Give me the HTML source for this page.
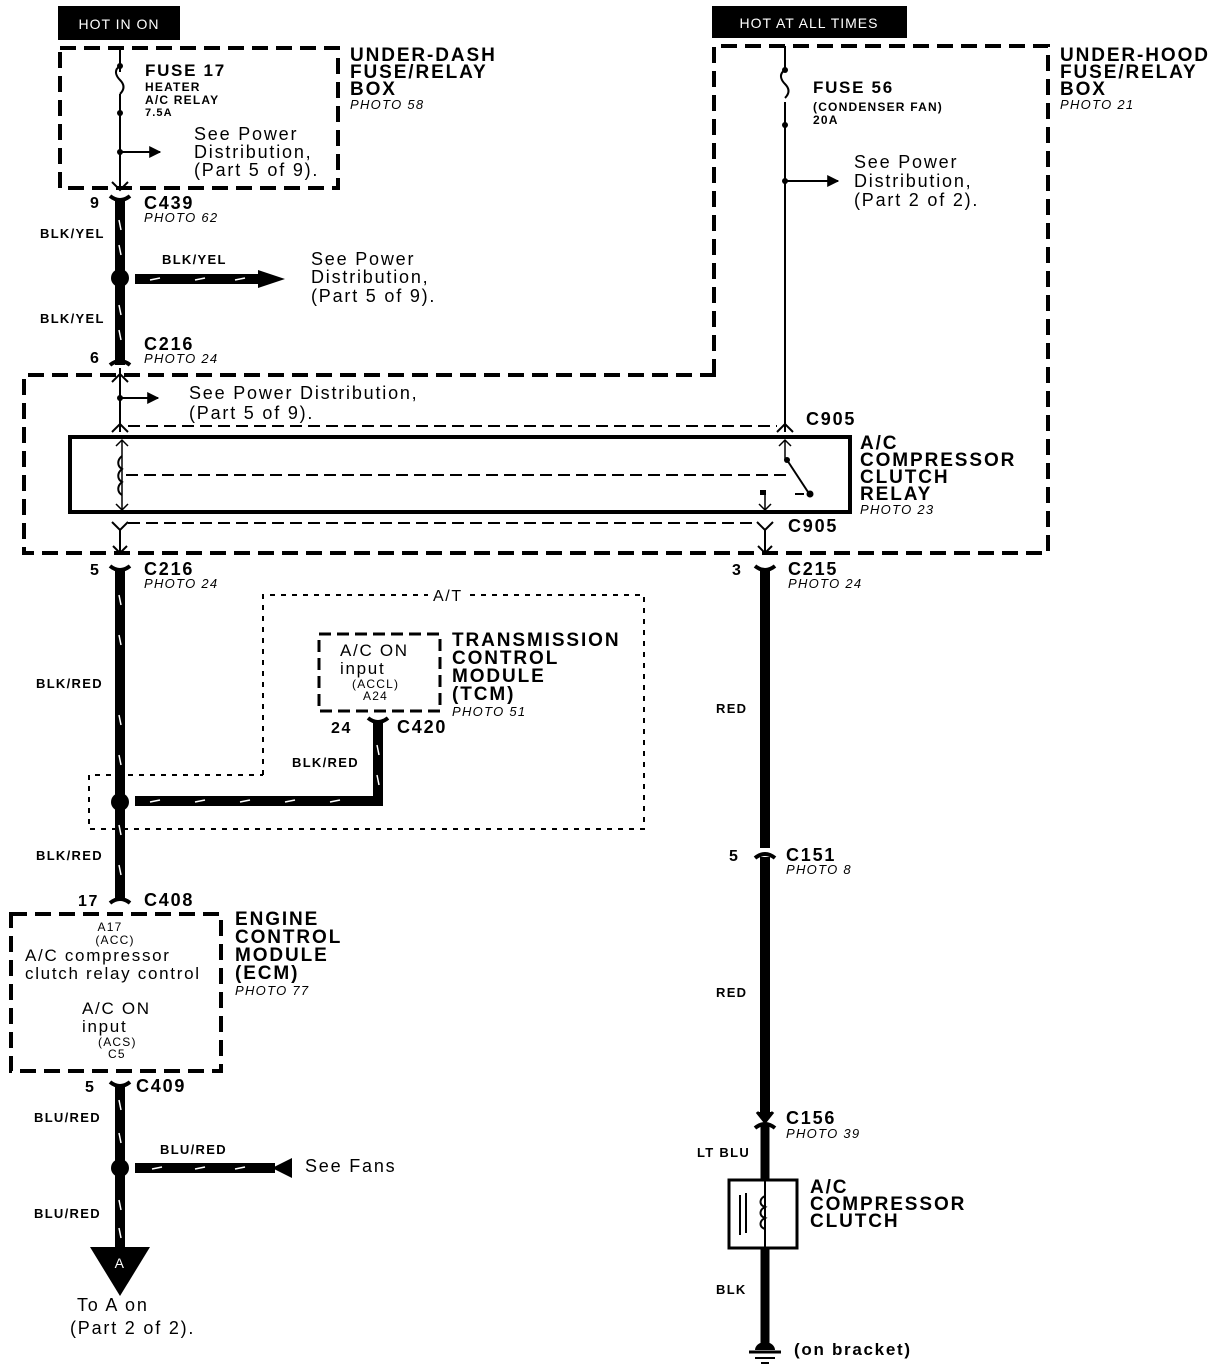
<!DOCTYPE html>
<html><head><meta charset="utf-8"><style>
html,body{margin:0;padding:0;background:#fff;}
svg{display:block;}
text{font-family:"Liberation Sans",Arial,sans-serif;fill:#000;letter-spacing:0.1em;}
.b{font-weight:bold;}
.h{font-weight:bold;font-size:19px;}
.p{font-style:italic;font-size:13px;}
.w{font-weight:bold;font-size:13px;}
.n{font-size:18px;}
</style></head><body>
<svg width="1216" height="1370" viewBox="0 0 1216 1370" xmlns="http://www.w3.org/2000/svg">
<defs>
<marker id="ar" viewBox="0 0 10 10" refX="9" refY="5" markerWidth="6" markerHeight="6" orient="auto"><path d="M0,0L10,5L0,10z" fill="#000"/></marker>
</defs>
<rect x="58" y="6" width="122" height="34" fill="#000"/>
<text x="119" y="29" font-size="14" text-anchor="middle" style="fill:#fff;letter-spacing:1px">HOT IN ON</text>
<rect x="712" y="6" width="195" height="32" fill="#000"/>
<text x="809" y="28" font-size="14" text-anchor="middle" style="fill:#fff;letter-spacing:1px">HOT AT ALL TIMES</text>

<rect x="60" y="48" width="278" height="140" fill="none" stroke="#000" stroke-width="4" stroke-dasharray="16,8"/>
<text class="h" x="350" y="61">UNDER-DASH</text>
<text class="h" x="350" y="78">FUSE/RELAY</text>
<text class="h" x="350" y="95">BOX</text>
<text class="p" x="350" y="109">PHOTO 58</text>
<line x1="120" y1="46" x2="120" y2="190" stroke="#000" stroke-width="2"/>
<rect x="116" y="72" width="8" height="22" fill="#fff"/>
<path d="M120,66 c-8,5 -2,12 0,14 c3,3 6,8 0,14" fill="none" stroke="#000" stroke-width="2"/>
<circle cx="120" cy="66" r="3"/><circle cx="120" cy="113" r="3"/><circle cx="120" cy="152" r="3"/>
<line x1="120" y1="152" x2="160" y2="152" stroke="#000" stroke-width="2" marker-end="url(#ar)"/>
<text class="b" x="145" y="76" font-size="17">FUSE 17</text>
<text class="b" x="145" y="91" font-size="12">HEATER</text>
<text class="b" x="145" y="104" font-size="12">A/C RELAY</text>
<text class="b" x="145" y="116" font-size="11">7.5A</text>
<text class="n" x="194" y="140">See Power</text>
<text class="n" x="194" y="158">Distribution,</text>
<text class="n" x="194" y="176">(Part 5 of 9).</text>
<path d="M112,182 L120,190 L128,182" fill="none" stroke="#000" stroke-width="2"/>

<path d="M110,196 Q120,204 130,196" fill="none" stroke="#000" stroke-width="4"/>
<line x1="120" y1="200" x2="120" y2="365" stroke="#000" stroke-width="10"/>
<path d="M110,365 Q120,357 130,365" fill="none" stroke="#000" stroke-width="4"/>
<g stroke="#fff" stroke-width="1.5"><line x1="119" y1="220" x2="121" y2="230"/><line x1="119" y1="245" x2="121" y2="255"/><line x1="119" y1="305" x2="121" y2="315"/><line x1="119" y1="330" x2="121" y2="340"/></g>
<circle cx="120" cy="278" r="9"/>
<line x1="135" y1="279" x2="260" y2="279" stroke="#000" stroke-width="10"/>
<path d="M258,270 L285,279 L258,288z"/>
<g stroke="#fff" stroke-width="1.5"><line x1="150" y1="280" x2="160" y2="278"/><line x1="195" y1="280" x2="205" y2="278"/><line x1="235" y1="280" x2="245" y2="278"/></g>
<text class="b" x="90" y="208" font-size="16">9</text>
<text class="b" x="144" y="209" font-size="18">C439</text>
<text class="p" x="144" y="222">PHOTO 62</text>
<text class="w" x="40" y="238">BLK/YEL</text>
<text class="w" x="162" y="264">BLK/YEL</text>
<text class="n" x="311" y="265">See Power</text>
<text class="n" x="311" y="283">Distribution,</text>
<text class="n" x="311" y="302">(Part 5 of 9).</text>
<text class="w" x="40" y="323">BLK/YEL</text>
<text class="b" x="144" y="350" font-size="18">C216</text>
<text class="p" x="144" y="363">PHOTO 24</text>
<text class="b" x="90" y="363" font-size="16">6</text>

<path d="M714,375 L714,46 L1048,46 L1048,553 L24,553 L24,375 Z" fill="none" stroke="#000" stroke-width="4" stroke-dasharray="16,8"/>
<text class="h" x="1060" y="61">UNDER-HOOD</text>
<text class="h" x="1060" y="78">FUSE/RELAY</text>
<text class="h" x="1060" y="95">BOX</text>
<text class="p" x="1060" y="109">PHOTO 21</text>
<line x1="785" y1="46" x2="785" y2="432" stroke="#000" stroke-width="2"/>
<rect x="781" y="72" width="8" height="30" fill="#fff"/>
<path d="M785,70 c-8,5 -2,12 0,14 c3,3 6,8 0,14" fill="none" stroke="#000" stroke-width="2"/>
<circle cx="785" cy="70" r="3"/><circle cx="785" cy="125" r="3"/><circle cx="785" cy="181" r="3"/>
<line x1="785" y1="181" x2="838" y2="181" stroke="#000" stroke-width="2" marker-end="url(#ar)"/>
<text class="b" x="813" y="93" font-size="17">FUSE 56</text>
<text class="b" x="813" y="111" font-size="12">(CONDENSER FAN)</text>
<text class="b" x="813" y="124" font-size="12">20A</text>
<text class="n" x="854" y="168">See Power</text>
<text class="n" x="854" y="187">Distribution,</text>
<text class="n" x="854" y="206">(Part 2 of 2).</text>

<line x1="120" y1="368" x2="120" y2="432" stroke="#000" stroke-width="2"/>
<path d="M112,382 L120,374 L128,382" fill="none" stroke="#000" stroke-width="2"/>
<circle cx="120" cy="398" r="3"/>
<line x1="120" y1="398" x2="158" y2="398" stroke="#000" stroke-width="2" marker-end="url(#ar)"/>
<text class="n" x="189" y="399">See Power Distribution,</text>
<text class="n" x="189" y="419">(Part 5 of 9).</text>
<path d="M112,432 L120,424 L128,432" fill="none" stroke="#000" stroke-width="2"/>
<line x1="128" y1="426" x2="777" y2="426" stroke="#000" stroke-width="2" stroke-dasharray="12,6"/>
<path d="M777,432 L785,424 L793,432" fill="none" stroke="#000" stroke-width="2"/>
<text class="b" x="806" y="425" font-size="18">C905</text>

<rect x="70" y="437" width="780" height="75" fill="none" stroke="#000" stroke-width="4"/>
<text class="h" x="860" y="449">A/C</text>
<text class="h" x="860" y="466">COMPRESSOR</text>
<text class="h" x="860" y="483">CLUTCH</text>
<text class="h" x="860" y="500">RELAY</text>
<text class="p" x="860" y="514">PHOTO 23</text>
<line x1="122" y1="440" x2="122" y2="510" stroke="#000" stroke-width="1.5"/>
<path d="M116,446 L122,440 L128,446 M116,504 L122,510 L128,504" fill="none" stroke="#000" stroke-width="1.5"/>
<path d="M122,456 c-5,4 -5,10 0,13 c-5,4 -5,10 0,13 c-5,4 -5,10 0,13" fill="none" stroke="#000" stroke-width="2"/>
<line x1="126" y1="475" x2="790" y2="475" stroke="#000" stroke-width="2" stroke-dasharray="12,6"/>
<line x1="785" y1="440" x2="785" y2="460" stroke="#000" stroke-width="1.5"/>
<path d="M779,446 L785,440 L791,446" fill="none" stroke="#000" stroke-width="1.5"/>
<circle cx="787" cy="460" r="3"/>
<line x1="787" y1="460" x2="808" y2="492" stroke="#000" stroke-width="2"/>
<circle cx="810" cy="494" r="3.5"/>
<line x1="795" y1="494" x2="804" y2="494" stroke="#000" stroke-width="2"/>
<rect x="760" y="490" width="6" height="5"/>
<line x1="765" y1="490" x2="765" y2="510" stroke="#000" stroke-width="1.5"/>
<path d="M759,504 L765,510 L771,504" fill="none" stroke="#000" stroke-width="1.5"/>

<path d="M112,522 L120,530 L128,522" fill="none" stroke="#000" stroke-width="2"/>
<line x1="128" y1="523" x2="757" y2="523" stroke="#000" stroke-width="2" stroke-dasharray="12,6"/>
<path d="M757,522 L765,530 L773,522" fill="none" stroke="#000" stroke-width="2"/>
<text class="b" x="788" y="532" font-size="18">C905</text>
<line x1="120" y1="530" x2="120" y2="555" stroke="#000" stroke-width="2"/>
<path d="M113,546 L120,553 L127,546" fill="none" stroke="#000" stroke-width="2"/>
<line x1="765" y1="530" x2="765" y2="555" stroke="#000" stroke-width="2"/>
<path d="M758,546 L765,553 L772,546" fill="none" stroke="#000" stroke-width="2"/>

<path d="M110,566 Q120,574 130,566" fill="none" stroke="#000" stroke-width="4"/>
<line x1="120" y1="570" x2="120" y2="900" stroke="#000" stroke-width="10"/>
<g stroke="#fff" stroke-width="1.5"><line x1="119" y1="595" x2="121" y2="605"/><line x1="119" y1="635" x2="121" y2="645"/><line x1="119" y1="715" x2="121" y2="725"/><line x1="119" y1="755" x2="121" y2="765"/><line x1="119" y1="825" x2="121" y2="835"/><line x1="119" y1="865" x2="121" y2="875"/></g>
<path d="M110,903 Q120,895 130,903" fill="none" stroke="#000" stroke-width="4"/>
<text class="b" x="90" y="575" font-size="16">5</text>
<text class="b" x="144" y="575" font-size="18">C216</text>
<text class="p" x="144" y="588">PHOTO 24</text>
<text class="w" x="36" y="688">BLK/RED</text>
<text class="w" x="36" y="860">BLK/RED</text>

<path d="M263,775 L263,595 L428,595 M470,595 L644,595 L644,829 L89,829 L89,775 L263,775" fill="none" stroke="#000" stroke-width="2" stroke-dasharray="5,6"/>
<text x="433" y="601" font-size="16">A/T</text>
<rect x="319" y="634" width="121" height="77" fill="none" stroke="#000" stroke-width="3" stroke-dasharray="12,6"/>
<text x="340" y="656" font-size="17">A/C ON</text>
<text x="340" y="674" font-size="17">input</text>
<text x="352" y="688" font-size="12">(ACCL)</text>
<text x="363" y="700" font-size="12">A24</text>
<text class="h" x="452" y="646">TRANSMISSION</text>
<text class="h" x="452" y="664">CONTROL</text>
<text class="h" x="452" y="682">MODULE</text>
<text class="h" x="452" y="700">(TCM)</text>
<text class="p" x="452" y="716">PHOTO 51</text>
<text class="b" x="331" y="733" font-size="16">24</text>
<text class="b" x="397" y="733" font-size="18">C420</text>
<path d="M368,718 Q378,726 388,718" fill="none" stroke="#000" stroke-width="4"/>
<path d="M378,722 L378,801 L135,801" fill="none" stroke="#000" stroke-width="10"/>
<g stroke="#fff" stroke-width="1.5"><line x1="377" y1="745" x2="379" y2="755"/><line x1="377" y1="775" x2="379" y2="785"/><line x1="150" y1="802" x2="160" y2="800"/><line x1="195" y1="802" x2="205" y2="800"/><line x1="240" y1="802" x2="250" y2="800"/><line x1="285" y1="802" x2="295" y2="800"/><line x1="330" y1="802" x2="340" y2="800"/></g>
<text class="w" x="292" y="767">BLK/RED</text>
<circle cx="120" cy="802" r="9"/>

<text class="b" x="78" y="906" font-size="16">17</text>
<text class="b" x="144" y="906" font-size="18">C408</text>
<rect x="11" y="914" width="210" height="157" fill="none" stroke="#000" stroke-width="4" stroke-dasharray="16,8"/>
<text x="110" y="931" font-size="12" text-anchor="middle">A17</text>
<text x="115" y="944" font-size="12" text-anchor="middle">(ACC)</text>
<text x="25" y="961" font-size="17">A/C compressor</text>
<text x="25" y="979" font-size="17">clutch relay control</text>
<text x="82" y="1014" font-size="17">A/C ON</text>
<text x="82" y="1032" font-size="17">input</text>
<text x="98" y="1046" font-size="12">(ACS)</text>
<text x="108" y="1058" font-size="12">C5</text>
<text class="h" x="235" y="925">ENGINE</text>
<text class="h" x="235" y="943">CONTROL</text>
<text class="h" x="235" y="961">MODULE</text>
<text class="h" x="235" y="979">(ECM)</text>
<text class="p" x="235" y="995">PHOTO 77</text>
<text class="b" x="85" y="1092" font-size="16">5</text>
<text class="b" x="136" y="1092" font-size="18">C409</text>
<path d="M110,1082 Q120,1090 130,1082" fill="none" stroke="#000" stroke-width="4"/>
<line x1="120" y1="1086" x2="120" y2="1250" stroke="#000" stroke-width="10"/>
<g stroke="#fff" stroke-width="1.5"><line x1="119" y1="1100" x2="121" y2="1110"/><line x1="119" y1="1133" x2="121" y2="1143"/><line x1="119" y1="1200" x2="121" y2="1210"/><line x1="119" y1="1228" x2="121" y2="1238"/></g>
<text class="w" x="34" y="1122">BLU/RED</text>
<text class="w" x="160" y="1154">BLU/RED</text>
<circle cx="120" cy="1168" r="9"/>
<line x1="135" y1="1168" x2="275" y2="1168" stroke="#000" stroke-width="10"/>
<path d="M292,1158 L272,1168 L292,1178z"/>
<g stroke="#fff" stroke-width="1.5"><line x1="152" y1="1169" x2="162" y2="1167"/><line x1="195" y1="1169" x2="205" y2="1167"/><line x1="235" y1="1169" x2="245" y2="1167"/></g>
<text class="n" x="305" y="1172">See Fans</text>
<text class="w" x="34" y="1218">BLU/RED</text>
<path d="M90,1247 L150,1247 L120,1296z"/>
<text x="120" y="1268" font-size="14" text-anchor="middle" style="fill:#fff">A</text>
<text class="n" x="77" y="1311">To A on</text>
<text class="n" x="70" y="1334">(Part 2 of 2).</text>

<path d="M755,566 Q765,574 775,566" fill="none" stroke="#000" stroke-width="4"/>
<line x1="765" y1="570" x2="765" y2="848" stroke="#000" stroke-width="10"/>
<text class="b" x="732" y="575" font-size="16">3</text>
<text class="b" x="788" y="575" font-size="18">C215</text>
<text class="p" x="788" y="588">PHOTO 24</text>
<text class="w" x="716" y="713">RED</text>
<path d="M755,858 Q765,850 775,858" fill="none" stroke="#000" stroke-width="4"/>
<line x1="765" y1="857" x2="765" y2="1118" stroke="#000" stroke-width="10"/>
<text class="b" x="729" y="861" font-size="16">5</text>
<text class="b" x="786" y="861" font-size="18">C151</text>
<text class="p" x="786" y="874">PHOTO 8</text>
<text class="w" x="716" y="997">RED</text>
<path d="M757,1112 L765,1122 L773,1112" fill="#000" stroke="#000" stroke-width="3"/>
<path d="M755,1128 Q765,1120 775,1128" fill="none" stroke="#000" stroke-width="4"/>
<line x1="765" y1="1126" x2="765" y2="1345" stroke="#000" stroke-width="9"/>
<text class="b" x="786" y="1124" font-size="18">C156</text>
<text class="p" x="786" y="1138">PHOTO 39</text>
<text class="w" x="697" y="1157">LT BLU</text>
<rect x="729" y="1180" width="68" height="68" fill="#fff" stroke="#000" stroke-width="3"/>
<line x1="765" y1="1180" x2="765" y2="1248" stroke="#000" stroke-width="2"/>
<path d="M765,1196 c-6,3 -6,9 0,11 c-6,3 -6,9 0,11 c-6,3 -6,9 0,11" fill="none" stroke="#000" stroke-width="2"/>
<line x1="740" y1="1195" x2="740" y2="1235" stroke="#000" stroke-width="2"/>
<line x1="746" y1="1193" x2="746" y2="1233" stroke="#000" stroke-width="2"/>
<text class="h" x="810" y="1193">A/C</text>
<text class="h" x="810" y="1210">COMPRESSOR</text>
<text class="h" x="810" y="1227">CLUTCH</text>
<text class="w" x="716" y="1294">BLK</text>
<path d="M755,1350 a10,8 0 0 1 20,0z"/>
<line x1="749" y1="1352" x2="781" y2="1352" stroke="#000" stroke-width="3"/>
<line x1="755" y1="1358" x2="775" y2="1358" stroke="#000" stroke-width="2"/>
<line x1="761" y1="1363" x2="769" y2="1363" stroke="#000" stroke-width="2"/>
<text class="b" x="794" y="1355" font-size="17">(on bracket)</text>
</svg>
</body></html>
